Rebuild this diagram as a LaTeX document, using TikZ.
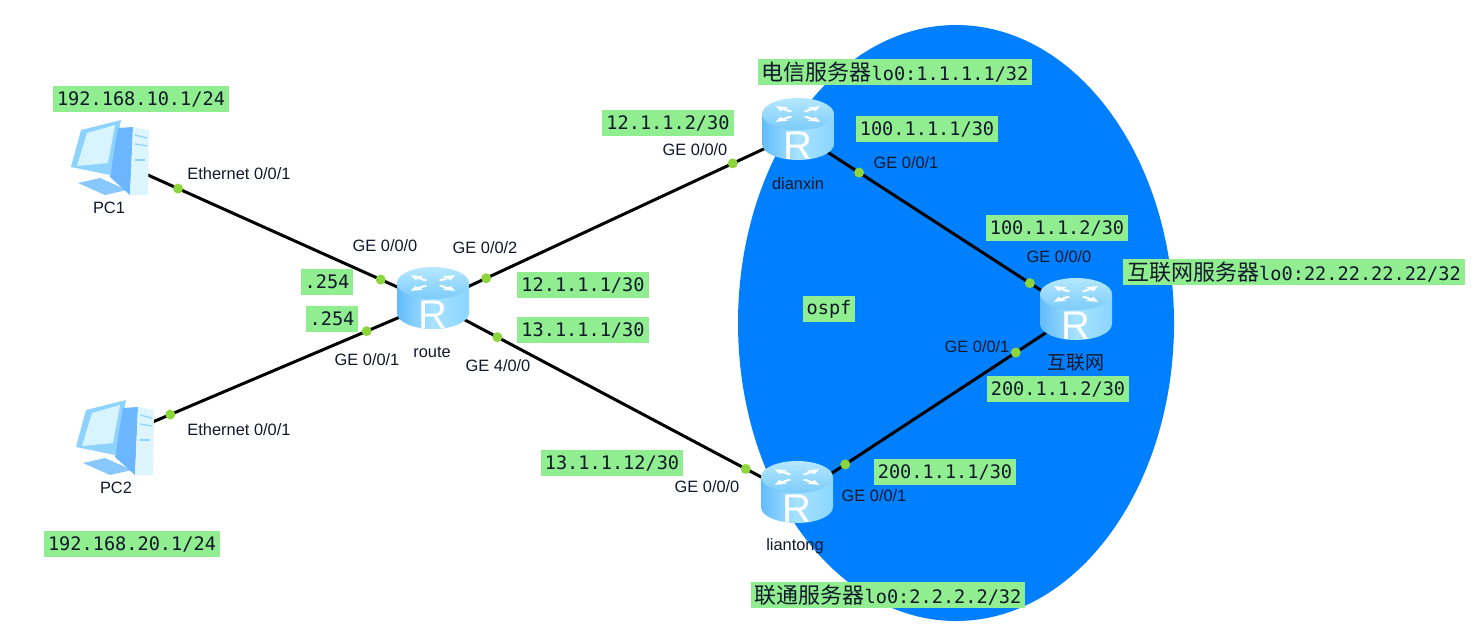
\documentclass[tikz,border=0pt]{standalone}
\usepackage{fontspec}
\setmainfont{Liberation Sans}
\setmonofont{DejaVu Sans Mono}
\newfontfamily\cjk{Noto Sans CJK SC}
\usetikzlibrary{positioning,calc}

\definecolor{ospfblue}{HTML}{0080FF}
\definecolor{tagbg}{HTML}{90EE90}
\definecolor{portdot}{HTML}{8CD63C}
\definecolor{inkdark}{HTML}{10182A}
\definecolor{bodyside}{HTML}{62BCFA}
\definecolor{bodymid}{HTML}{A8E2FF}
\definecolor{bodyedge}{HTML}{8AD6FF}
\definecolor{capbright}{HTML}{B4E8FF}
\definecolor{capdim}{HTML}{7CCBF8}
\definecolor{pcframe}{HTML}{8ED2FF}
\definecolor{pcscreen}{HTML}{D8F4FF}
\definecolor{pcside}{HTML}{6CB6FF}
\definecolor{pcfront}{HTML}{DCF5FF}
\definecolor{pcbase}{HTML}{88C8FF}

\tikzset{
  routerpic/.pic={
    \shade[left color=bodyside,right color=bodyedge,middle color=bodymid]
      (-36,-14) -- (-36,15) arc[start angle=180,end angle=0,x radius=36,y radius=16] -- (36,-14) -- cycle;
    \shade[top color=capbright,bottom color=capdim]
      (0,-15) ellipse[x radius=36,y radius=16];
    \begin{scope}[shift={(0,-15)},yscale=.42]
      \foreach \a in {40,140,220,320}
        \fill[white,rotate=\a] (9,-2) -- (18,-2) -- (18,-6) -- (29,0) -- (18,6) -- (18,2) -- (9,2) -- cycle;
    \end{scope}
    \node[white,font=\fontsize{20}{20}\selectfont] (-letter) at (0,17) {R};
  },
  pcpic/.pic={
    \fill[pcbase] (-32,25) -- (-10,20) -- (17,32) -- (-5,37) -- cycle;
    \fill[pcframe] (-29,-28) -- (11,-38) -- (0,17) -- (-39,9) -- cycle;
    \fill[pcscreen] (-23,-25) -- (5,-33) -- (-2,5) -- (-33,8) -- cycle;
    \fill[pcside] (8,-30) -- (23,-31) -- (20,37) -- (0,19) -- cycle;
    \fill[pcfront] (23,-31) -- (39,-28) -- (38,37) -- (20,37) -- cycle;
    \draw[pcframe,line width=.6pt] (25,-23) -- (37,-20);
    \draw[pcframe,line width=.6pt] (25,-14) -- (37,-12);
    \draw[pcframe,line width=.6pt] (25,2) -- (35,2);
  }
}

\begin{document}
\begin{tikzpicture}[x=0.5pt,y=-0.5pt]
  \tikzstyle{hub}=[inner sep=0pt,minimum size=0pt]
  \tikzstyle{port}=[circle,fill=portdot,minimum size=5pt,inner sep=0pt]
  \tikzstyle{tag}=[fill=tagbg,text=inkdark,inner xsep=2pt,inner ysep=0pt,minimum height=13pt,font=\ttfamily\fontsize{9.3}{11}\selectfont]
  \tikzstyle{gelabel}=[text=inkdark,inner sep=0pt,font=\fontsize{8.2}{10}\selectfont]
  \tikzstyle{link}=[line width=1.5pt,black]

  \useasboundingbox (0,0) rectangle (1476,634);
  \fill[white] (0,0) rectangle (1476,634);
  \fill[ospfblue] (956,323) ellipse[x radius=218,y radius=298];

  \draw (110,158) node[hub] (PC1){};
  \draw (115,438) node[hub] (PC2){};
  \draw (433,303) node[hub] (route){};
  \draw (798,133) node[hub] (dianxin){};
  \draw (797,496) node[hub] (liantong){};
  \draw (1076,313) node[hub] (hulian){};

  \draw[link] (PC1) -- node[port,pos=.21] (p1a){} node[port,pos=.839] (p1b){} (route);
  \draw[link] (PC2) -- node[port,pos=.173] (p2a){} node[port,pos=.792] (p2b){} (route);
  \draw[link] (route) -- node[port,pos=.145] (p3a){} node[port,pos=.822] (p3b){} (dianxin);
  \draw[link] (route) -- node[port,pos=.176] (p4a){} node[port,pos=.86] (p4b){} (liantong);
  \draw[link] (dianxin) -- node[port,pos=.219] (p5a){} node[port,pos=.835] (p5b){} (hulian);
  \draw[link] (liantong) -- node[port,pos=.172] (p6a){} node[port,pos=.785] (p6b){} (hulian);

  \pic (PC1icon) at (PC1) {pcpic};
  \pic (PC2icon) at (PC2) {pcpic};
  \pic (routeicon) at (433,298) {routerpic};
  \pic (dianxinicon) at (798,129) {routerpic};
  \pic (liantongicon) at (797,492) {routerpic};
  \pic (hulianicon) at (1076,309) {routerpic};

  \draw (109,208) node[gelabel] (PC1name){PC1};
  \draw (116,488) node[gelabel] (PC2name){PC2};
  \draw (432,352) node[gelabel] (routename){route};
  \draw (798,184) node[gelabel] (dianxinname){dianxin};
  \draw (795,546) node[gelabel] (liantongname){liantong};
  \draw (1076,362) node[gelabel,font=\cjk\fontsize{9.5}{11}\selectfont] (hulianname){互联网};

  \draw (239,174) node[gelabel] (e1){Ethernet 0/0/1};
  \draw (239,430) node[gelabel] (e2){Ethernet 0/0/1};
  \draw (385,246) node[gelabel] (g1){GE 0/0/0};
  \draw (485,248) node[gelabel] (g2){GE 0/0/2};
  \draw (367,360) node[gelabel] (g3){GE 0/0/1};
  \draw (498,366) node[gelabel] (g4){GE 4/0/0};
  \draw (695,150) node[gelabel] (g5){GE 0/0/0};
  \draw (906,163) node[gelabel] (g6){GE 0/0/1};
  \draw (1059,257) node[gelabel] (g7){GE 0/0/0};
  \draw (977,347) node[gelabel] (g8){GE 0/0/1};
  \draw (707,487) node[gelabel] (g9){GE 0/0/0};
  \draw (874,496) node[gelabel] (g10){GE 0/0/1};

  \draw (141,99) node[tag] (t1){192.168.10.1/24};
  \draw (132,544) node[tag] (t2){192.168.20.1/24};
  \draw (668,123) node[tag] (t3){12.1.1.2/30};
  \draw (927,129) node[tag] (t4){100.1.1.1/30};
  \draw (583,285) node[tag] (t5){12.1.1.1/30};
  \draw (583,330) node[tag] (t6){13.1.1.1/30};
  \draw (327,282) node[tag] (t7){.254};
  \draw (332,319) node[tag] (t8){.254};
  \draw (829,309) node[tag] (t9){ospf};
  \draw (1057,228) node[tag] (t10){100.1.1.2/30};
  \draw (1058,389) node[tag] (t11){200.1.1.2/30};
  \draw (945,472) node[tag] (t12){200.1.1.1/30};
  \draw (612,463) node[tag] (t13){13.1.1.12/30};
  \draw (895,72) node[tag] (t14){{\cjk\fontsize{11}{11}\selectfont 电信服务器}lo0:1.1.1.1/32};
  \draw (888,595) node[tag] (t15){{\cjk\fontsize{11}{11}\selectfont 联通服务器}lo0:2.2.2.2/32};
  \draw (1294,272) node[tag] (t16){{\cjk\fontsize{11}{11}\selectfont 互联网服务器}lo0:22.22.22.22/32};
\end{tikzpicture}
\end{document}
